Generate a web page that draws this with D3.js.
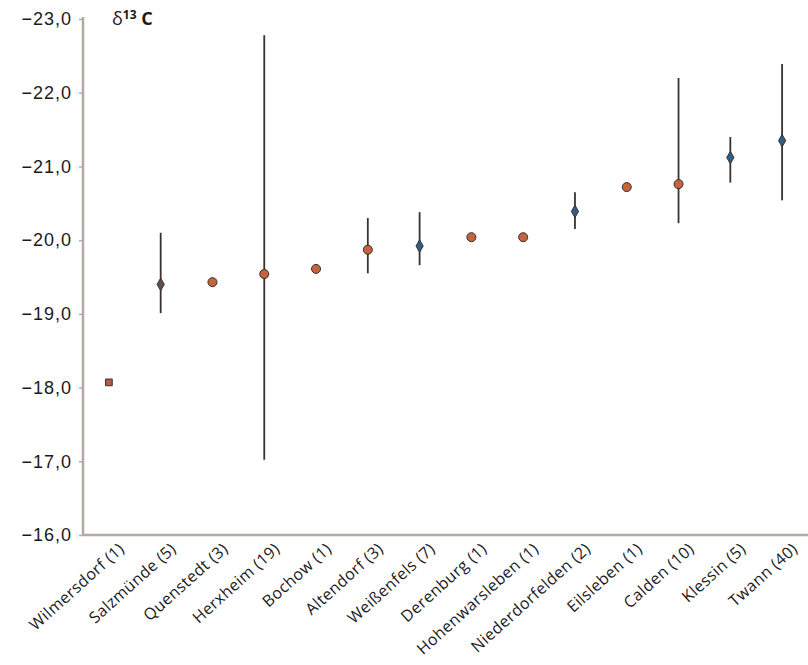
<!DOCTYPE html>
<html>
<head>
<meta charset="utf-8">
<script src="https://cdn.jsdelivr.net/npm/d3@7"></script>
<style>
  body { margin: 0; background: #fff; }
  svg { display: block; font-family: "Open Sans", sans-serif; }
</style>
</head>
<body>
<div id="main"></div>
<script>
const sites = ["Wilmersdorf (1)", "Salzmünde (5)", "Quenstedt (3)", "Herxheim (19)", "Bochow (1)",
  "Altendorf (3)", "Weißenfels (7)", "Derenburg (1)", "Hohenwarsleben (1)", "Niederdorfelden (2)",
  "Eilsleben (1)", "Calden (10)", "Klessin (5)", "Twann (40)"];
const meanVals = [-18.07, -19.40, -19.43, -19.54, -19.61, -19.87, -19.92, -20.04, -20.04, -20.39, -20.72, -20.76, -21.12, -21.35];
const lowVals  = [null, -19.01, null, -17.02, null, -19.55, -19.66, null, null, -20.15, null, -20.23, -20.78, -20.54];
const highVals = [null, -20.10, null, -22.78, null, -20.30, -20.38, null, null, -20.65, null, -22.20, -21.40, -22.39];
const markers  = ["square", "diamondGrey", "circle", "circle", "circle", "circle", "diamond", "circle", "circle", "diamond", "circle", "circle", "diamond", "diamond"];
const yTicks = [-23, -22, -21, -20, -19, -18, -17, -16];

const W = 808, H = 665;
const box = { upper: 19, lower: 130, left: 83, right: 0 };

const svg = d3.select("#main").append("svg")
  .attr("width", W).attr("height", H);

const x = d3.scaleBand()
  .domain(sites)
  .range([box.left, W - box.right])
  .padding(0);

const y = d3.scaleLinear()
  .domain([-23, -16])
  .range([box.upper, H - box.lower]);

const fmt = v => d3.format(".1f")(v).replace("-", "\u2212").replace(".", ",");

// axes
const yAxis = svg.append("g")
  .attr("transform", `translate(${box.left},0)`)
  .call(d3.axisLeft(y).tickValues(yTicks).tickSize(4).tickPadding(7).tickFormat(fmt));
yAxis.select(".domain").remove();
yAxis.selectAll(".tick line").attr("stroke", "#b5aaa3").attr("stroke-width", 1.5);
yAxis.selectAll(".tick text")
  .style("font-size", "18px")
  .style("letter-spacing", "1px")
  .attr("fill", "#1a1a1a");

svg.append("line")
  .attr("x1", box.left).attr("x2", box.left)
  .attr("y1", y(-23) - 2).attr("y2", y(-16))
  .attr("stroke", "#b5aaa3").attr("stroke-width", 2.5);
svg.append("line")
  .attr("x1", box.left).attr("x2", W)
  .attr("y1", y(-16)).attr("y2", y(-16))
  .attr("stroke", "#b5aaa3").attr("stroke-width", 2.5);

// x labels
svg.append("g").selectAll("text")
  .data(sites)
  .enter()
  .append("text")
  .attr("transform", d => `translate(${x(d) + x.bandwidth() / 2 + 9},${y(-16) + 7}) rotate(-42)`)
  .attr("text-anchor", "end")
  .attr("dy", "0.7em")
  .style("font-size", "16px")
  .style("letter-spacing", "0.4px")
  .attr("fill", "#1a1a1a")
  .text(d => d);

// title
const title = svg.append("text")
  .attr("x", 112).attr("y", 25)
  .style("font-size", "18px")
  .attr("fill", "#1a1a1a");
title.append("tspan").text("δ");
title.append("tspan").style("font-size", "12px").attr("dy", -6).attr("font-weight", "bold").text("13");
title.append("tspan").attr("dy", 6).attr("font-weight", "bold").text(" C");

const rows = sites.map((s, i) => ({ site: s, mean: meanVals[i], lo: lowVals[i], hi: highVals[i], mark: markers[i] }));
const cx = d => x(d.site) + x.bandwidth() / 2;

// error bars
svg.append("g").selectAll("line")
  .data(rows.filter(d => d.lo !== null))
  .enter()
  .append("line")
  .attr("x1", cx).attr("x2", cx)
  .attr("y1", d => y(d.hi)).attr("y2", d => y(d.lo))
  .attr("stroke", "#3b3130").attr("stroke-width", 1.8);

// markers
const colors = { circle: "#c4643c", square: "#b8584a", diamond: "#2f5d8c", diamondGrey: "#5e4e4c" };
const symbolType = { circle: d3.symbolCircle, square: d3.symbolSquare, diamond: d3.symbolDiamond, diamondGrey: d3.symbolDiamond };
const symbolSize = { circle: 64, square: 45, diamond: 45, diamondGrey: 45 };

svg.append("g").selectAll("path")
  .data(rows)
  .enter()
  .append("path")
  .attr("transform", d => `translate(${cx(d)},${y(d.mean)})`)
  .attr("d", d => d3.symbol().type(symbolType[d.mark]).size(symbolSize[d.mark])())
  .attr("fill", d => colors[d.mark])
  .attr("stroke", "#3b2e2c")
  .attr("stroke-width", 1);
</script>
</body>
</html>
